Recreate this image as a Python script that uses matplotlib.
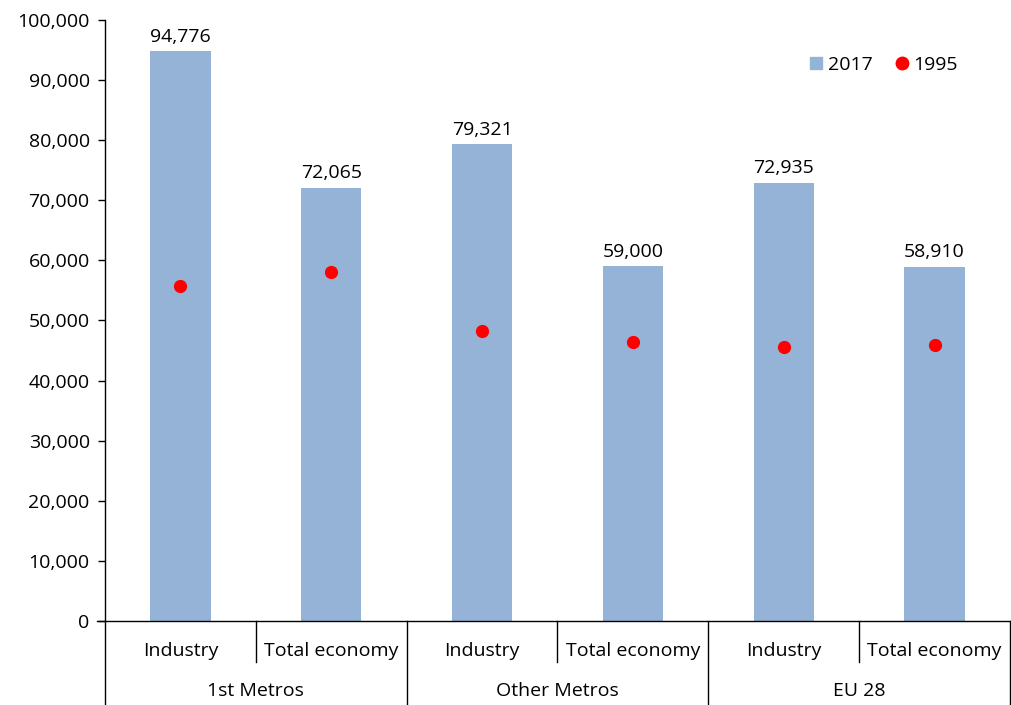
import matplotlib
matplotlib.use("Agg")
import matplotlib.pyplot as plt
from matplotlib.lines import Line2D
import matplotlib.transforms as mtransforms

plt.rcParams['font.family'] = ['Open Sans', 'DejaVu Sans']

groups = ["1st Metros", "Other Metros", "EU 28"]
subcats = ["Industry", "Total economy"]
values_2017 = [94776, 72065, 79321, 59000, 72935, 58910]
values_1995 = [55700, 58100, 48300, 46400, 45600, 45900]
yticks = list(range(0, 100001, 10000))

bar_color = "#95B3D7"
dot_color = "#FF0000"
FS = 14

fig = plt.figure(figsize=(10.12, 7.05), dpi=100)
ax = fig.add_axes([105/1012, (705-621)/705, (1010-105)/1012, (621-20)/705])

n = len(values_2017)
x = list(range(n))
ax.bar(x, values_2017, width=0.4, color=bar_color, zorder=2)
ax.plot(x, values_1995, 'o', color=dot_color, markersize=8.5, zorder=3)

for xi, v in zip(x, values_2017):
    ax.annotate(f"{v:,}", (xi, v), xytext=(0, 4), textcoords="offset points",
                ha="center", va="bottom", fontsize=FS, color="#000000")

ax.set_xlim(-0.5, n - 0.5)
ax.set_ylim(0, 100000)
ax.set_yticks(yticks)
ax.set_yticklabels([f"{t:,}" for t in yticks], fontsize=FS)
ax.tick_params(axis='y', direction='out', length=5, width=1, pad=6)
ax.set_xticks([])

for s in ["top", "right"]:
    ax.spines[s].set_visible(False)
ax.spines["left"].set_linewidth(1)
ax.spines["bottom"].set_visible(False)

# bottom axis line extended left
trans = mtransforms.blended_transform_factory(ax.transData, ax.transAxes)
ax.add_line(Line2D([-0.5 - 0.05, n - 0.5], [0, 0], transform=trans, color="black",
                   lw=1, clip_on=False))

px = 1.0 / (621 - 20)  # axes fraction per pixel
# separators
for i in range(n + 1):
    xb = i - 0.5
    if i % 2 == 0:
        y_end = -(705 - 621) * px
    else:
        y_end = -(662 - 621) * px
    ax.add_line(Line2D([xb, xb], [0, y_end], transform=trans, color="black",
                       lw=1, clip_on=False))

# sub-category labels
for i in range(n):
    ax.text(i, -(651 - 621) * px, subcats[i % 2], transform=trans, ha="center",
            va="center", fontsize=FS)
# group labels
for g, name in enumerate(groups):
    ax.text(2 * g + 0.5, -(691 - 621) * px, name, transform=trans, ha="center",
            va="center", fontsize=FS)

# legend
handles = [Line2D([], [], marker='s', linestyle='none', color=bar_color, markersize=9),
           Line2D([], [], marker='o', linestyle='none', color=dot_color, markersize=9)]
ax.legend(handles, ["2017", "1995"], loc="upper right", bbox_to_anchor=(0.962, 0.97),
          ncol=2, frameon=False, fontsize=FS, handletextpad=0.1, columnspacing=1.0,
          handlelength=1.0)

fig.savefig("out.png", dpi=100)
